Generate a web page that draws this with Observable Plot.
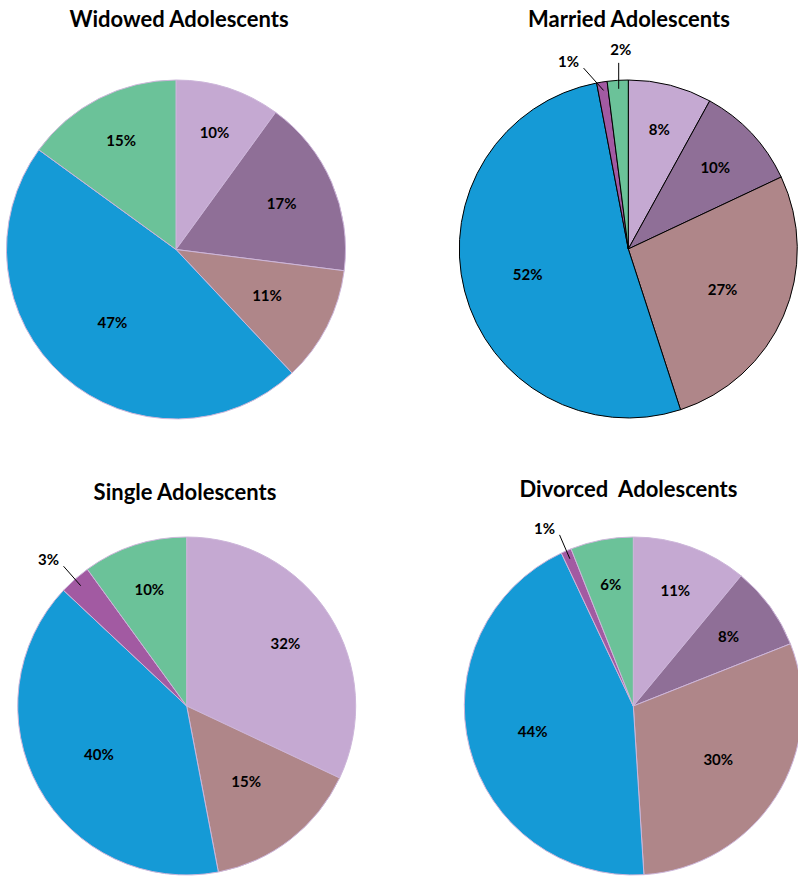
<!DOCTYPE html>
<html><head><meta charset="utf-8">
<script src="https://cdn.jsdelivr.net/npm/d3@7"></script>
<script src="https://cdn.jsdelivr.net/npm/@observablehq/plot@0.6"></script>
<style>
body{margin:0;background:#fff}
svg text{white-space:pre}
</style>
</head><body><div id="chart"></div>
<script>
// ---- data ----
const categories = ["Category 1", "Category 2", "Category 3", "Category 4", "Category 5", "Category 6"];
const titles = ["Widowed Adolescents", "Married Adolescents", "Single Adolescents", "Divorced  Adolescents"];
const widowed  = [10, 17, 11, 47, 0, 15];
const married  = [8, 10, 27, 52, 1, 2];
const single   = [32, 0, 15, 40, 3, 10];
const divorced = [11, 8, 30, 44, 1, 6];
const series = [widowed, married, single, divorced];

// ---- styles / layout ----
const colors = ["#C5A9D2", "#8F6F97", "#AF8689", "#159AD6", "#A25AA2", "#6BC299"];
const layout = [
  {cx: 176,   cy: 249.5, r: 169.5, stroke: "#CDB6DA", sw: 1, tx: 178.5, ty: 19},
  {cx: 628.3, cy: 249,   r: 169,   stroke: "#000000", sw: 1, tx: 628.5, ty: 19},
  {cx: 186.7, cy: 706,   r: 169,   stroke: "#CDB6DA", sw: 1, tx: 184.5, ty: 492},
  {cx: 633.3, cy: 706,   r: 169,   stroke: "#CDB6DA", sw: 1, tx: 628,   ty: 489}
];
const W = 798, H = 877;

const color = Plot.scale({color: {type: "ordinal", domain: categories, range: colors}});

// build slice table from the arrays
const slices = [];
series.forEach((vals, k) => {
  const L = layout[k];
  const arcs = d3.pie().sort(null).value(d => d)(vals);
  arcs.forEach((a, i) => {
    if (vals[i] <= 0) return;
    const mid = (a.startAngle + a.endAngle) / 2;
    slices.push({chart: k, category: categories[i], value: vals[i], label: vals[i] + "%",
      startAngle: a.startAngle, endAngle: a.endAngle, mid, small: vals[i] < 4,
      cx: L.cx, cy: L.cy, r: L.r, stroke: L.stroke, sw: L.sw});
  });
});

const pt = (s, rad, ang = s.mid) => [s.cx + rad * Math.sin(ang), s.cy - rad * Math.cos(ang)];

const inner = slices.filter(s => !s.small).map(s => {
  const [x, y] = pt(s, s.r * (0.64 + 0.09 * Math.cos(s.mid)));
  return {...s, x, y};
});

// callouts for small slices; when two callouts in one chart crowd, the
// non-vertical one is swung away from its neighbour
const smalls = slices.filter(s => s.small);
const outer = smalls.map(s => {
  const vertical = Math.abs(Math.sin(s.mid)) < 0.1;
  const crowded = smalls.some(o => o !== s && o.chart === s.chart && Math.abs(o.mid - s.mid) < 0.2);
  const ang = s.mid + (!vertical && crowded ? (Math.sin(s.mid) < 0 ? -1 : 1) * 5 * Math.PI / 180 : 0);
  let [x1, y1] = pt(s, s.r - 8);
  let [x2, y2] = pt(s, s.r + 18, ang);
  if (vertical) x2 = x1;
  const left = Math.sin(s.mid) < 0;
  return {...s, x1, y1, x2, y2,
    lx: vertical ? x2 + 2 : (left ? x2 - 15 : x2 + 15),
    ly: vertical ? y2 - 13 : y2 - 6,
    anchor: vertical ? "middle" : (left ? "end" : "start")};
});
const titleRows = titles.map((t, k) => ({title: t, x: layout[k].tx, y: layout[k].ty}));

// custom mark drawing the wedges
function wedges(data) {
  return (index, scales, values, dimensions) => {
    const g = d3.create("svg:g");
    g.selectAll("path").data(data).join("path")
      .attr("transform", d => `translate(${d.cx},${d.cy})`)
      .attr("d", d => d3.arc().innerRadius(0).outerRadius(d.r)(d))
      .attr("fill", d => color.apply(d.category))
      .attr("stroke", d => d.stroke)
      .attr("stroke-width", d => d.sw)
      .attr("stroke-linejoin", "round");
    return g.node();
  };
}

const chart = Plot.plot({
  width: W, height: H,
  margin: 0,
  x: {type: "identity", axis: null},
  y: {type: "identity", axis: null},
  style: {fontFamily: "Lato, 'DejaVu Sans', sans-serif", background: "#fff", color: "#000"},
  marks: [
    wedges(slices),
    Plot.text(inner, {x: "x", y: "y", text: "label", fontSize: 15, fontWeight: "bold", fill: "#000"}),
    Plot.link(outer, {x1: "x1", y1: "y1", x2: "x2", y2: "y2", stroke: "#000", strokeWidth: 1}),
    Plot.text(outer, {x: "lx", y: "ly", text: "label", textAnchor: "anchor", fontSize: 15, fontWeight: "bold", fill: "#000"}),
    Plot.text(titleRows, {x: "x", y: "y", text: "title", fontSize: 22, fontWeight: "bold", fill: "#000"})
  ]
});
document.getElementById("chart").append(chart);
</script>
</body></html>
